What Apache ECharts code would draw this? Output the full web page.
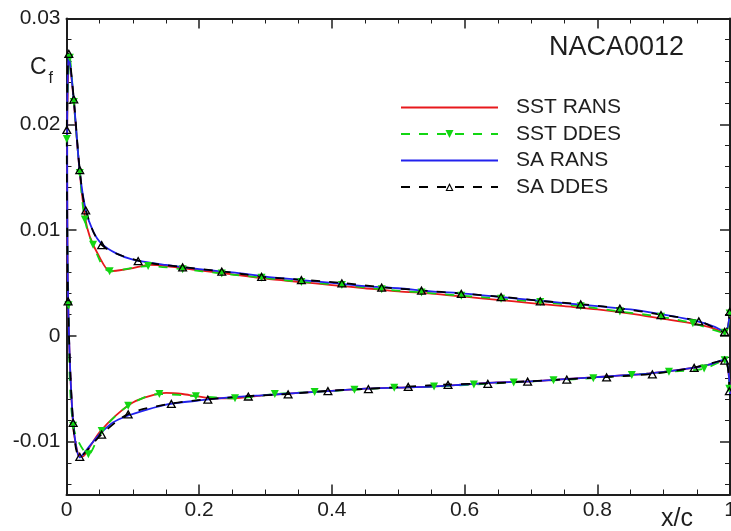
<!DOCTYPE html>
<html>
<head>
<meta charset="utf-8">
<script src="https://cdn.jsdelivr.net/npm/echarts@6/dist/echarts.min.js"></script>
<style>
  html, body { margin: 0; padding: 0; background: #fff; }
  #chart { width: 731px; height: 531px; }
</style>
</head>
<body>
<div id="chart"></div>
<script>
// Skin-friction coefficient on the NACA0012 section.
// Each path runs lower-surface trailing edge -> leading edge -> upper-surface trailing edge.

const xTickStep = 0.2;
const yMajorTicks = [-0.01, 0, 0.01, 0.02, 0.03];

const sstRans = [
  [1.0, -0.0055], [0.993, -0.0023], [0.97, -0.0027], [0.946, -0.0030], [0.9, -0.0034],
  [0.85, -0.0037], [0.8, -0.0039], [0.75, -0.0041], [0.7, -0.0043], [0.65, -0.0044],
  [0.6, -0.0046], [0.55, -0.0048], [0.5, -0.0049], [0.45, -0.0050], [0.4, -0.0052],
  [0.35, -0.0054], [0.3, -0.0056], [0.25, -0.0059], [0.22, -0.0059], [0.195, -0.0057],
  [0.175, -0.0055], [0.15, -0.0054], [0.125, -0.0057], [0.1, -0.0063], [0.075, -0.0075],
  [0.05, -0.0091], [0.035, -0.0105], [0.025, -0.0114], [0.018, -0.0113], [0.01, -0.0085],
  [0.0025, 0.0030], [0.001, 0.0187], [0.004, 0.0264], [0.011, 0.0221], [0.02, 0.0154],
  [0.028, 0.0112], [0.035, 0.0094], [0.05, 0.0074], [0.065, 0.0061], [0.08, 0.0062],
  [0.1, 0.0064], [0.125, 0.0067], [0.15, 0.0066], [0.2, 0.0062], [0.25, 0.0058],
  [0.3, 0.0054], [0.35, 0.0051], [0.4, 0.0048], [0.45, 0.0045], [0.5, 0.0042],
  [0.55, 0.0040], [0.6, 0.0037], [0.65, 0.0034], [0.7, 0.0031], [0.75, 0.0028],
  [0.8, 0.0025], [0.85, 0.0021], [0.9, 0.0016], [0.95, 0.0011], [0.975, 0.0007],
  [0.993, 0.0003], [1.0, 0.0022]
];

const sstDdes = [
  [0.999, -0.0050], [0.992, -0.0023], [0.961, -0.0031], [0.908, -0.0034], [0.852, -0.0037],
  [0.794, -0.0040], [0.734, -0.0042], [0.674, -0.0044], [0.614, -0.0046], [0.554, -0.0048],
  [0.494, -0.0049], [0.434, -0.0051], [0.374, -0.0053], [0.314, -0.0055], [0.254, -0.0059],
  [0.195, -0.0057], [0.14, -0.0055], [0.093, -0.0066], [0.053, -0.0090], [0.033, -0.0112],
  [0.01, -0.0085], [0.003, 0.0029], [0.0005, 0.0186], [0.005, 0.0263], [0.011, 0.0221],
  [0.02, 0.0154], [0.0276, 0.0110], [0.040, 0.0086], [0.065, 0.0061], [0.123, 0.0066],
  [0.175, 0.0063], [0.234, 0.0059], [0.294, 0.0055], [0.354, 0.0051], [0.415, 0.0048],
  [0.475, 0.0044], [0.535, 0.0041], [0.595, 0.0038], [0.655, 0.0035], [0.714, 0.0032],
  [0.775, 0.0028], [0.834, 0.0023], [0.896, 0.0018], [0.944, 0.0012], [0.992, 0.0003],
  [0.9995, 0.0021]
];

const saRans = [
  [1.0, -0.0055], [0.993, -0.0022], [0.97, -0.0027], [0.946, -0.0030], [0.9, -0.0034],
  [0.85, -0.0037], [0.8, -0.0039], [0.75, -0.0041], [0.7, -0.0043], [0.65, -0.0044],
  [0.6, -0.0046], [0.55, -0.0048], [0.5, -0.0049], [0.45, -0.0050], [0.4, -0.0052],
  [0.35, -0.0054], [0.3, -0.0056], [0.25, -0.0058], [0.2, -0.0061], [0.15, -0.0065],
  [0.12, -0.0070], [0.09, -0.0076], [0.07, -0.0082], [0.05, -0.0093], [0.035, -0.0104],
  [0.02, -0.0115], [0.01, -0.0082], [0.0025, 0.0033], [0.001, 0.0195], [0.0035, 0.0266],
  [0.011, 0.0223], [0.02, 0.0155], [0.029, 0.0119], [0.04, 0.0099], [0.053, 0.0087],
  [0.075, 0.0078], [0.1, 0.0072], [0.15, 0.0067], [0.2, 0.0063], [0.25, 0.0060],
  [0.3, 0.0056], [0.35, 0.0053], [0.4, 0.0050], [0.45, 0.0047], [0.5, 0.0045],
  [0.55, 0.0042], [0.6, 0.0040], [0.65, 0.0037], [0.7, 0.0034], [0.75, 0.0031],
  [0.8, 0.0028], [0.85, 0.0025], [0.9, 0.0020], [0.95, 0.0014], [0.975, 0.0009],
  [0.993, 0.0004], [1.0, 0.0023]
];

const saDdes = [
  [0.999, -0.0052], [0.992, -0.0023], [0.946, -0.0030], [0.883, -0.0036], [0.814, -0.0039],
  [0.754, -0.0041], [0.695, -0.0043], [0.635, -0.0045], [0.575, -0.0046], [0.515, -0.0048],
  [0.455, -0.0050], [0.394, -0.0052], [0.334, -0.0055], [0.274, -0.0057], [0.213, -0.0060],
  [0.158, -0.0064], [0.093, -0.0074], [0.053, -0.0093], [0.02, -0.0114], [0.01, -0.0082],
  [0.0024, 0.0033], [0.0005, 0.0195], [0.0035, 0.0267], [0.011, 0.0224], [0.02, 0.0157],
  [0.029, 0.0119], [0.053, 0.0086], [0.108, 0.0071], [0.175, 0.0065], [0.234, 0.0061],
  [0.294, 0.0056], [0.354, 0.0053], [0.415, 0.0050], [0.475, 0.0046], [0.535, 0.0043],
  [0.595, 0.0040], [0.655, 0.0037], [0.714, 0.0033], [0.775, 0.0030], [0.834, 0.0026],
  [0.896, 0.0020], [0.953, 0.0014], [0.992, 0.0004], [0.9995, 0.0023]
];

const FONT = '"Liberation Sans", Arial, sans-serif';
const INK = '#1e1e1e';
const RED = '#e8191c';
const GREEN = '#12d612';
const BLUE = '#2222ee';
const BLACK = '#000000';
// outlined triangle (inner contour wound the other way so it stays hollow)
const HOLLOW_TRI = 'path://M0,10 L5,0 L10,10 Z M2.2,8.6 L7.8,8.6 L5,3.2 Z';

// minor y ticks every 0.002, skipping the labelled ones
const yMinorTicks = [];
for (let k = -7; k <= 15; k++) {
  if (k % 5 !== 0) yMinorTicks.push(+(k * 0.002).toFixed(3));
}

const plotRect = { left: 66.5, right: 1, top: 18.5, bottom: 36.5, containLabel: false, outerBoundsMode: 'none' };
const axisLineStyle = { color: INK, width: 2 };

function xAxisDef(pos, labels) {
  return {
    type: 'value', gridIndex: 0, position: pos, min: 0, max: 1, interval: xTickStep,
    axisLine: { onZero: false, lineStyle: axisLineStyle },
    axisTick: { inside: true, length: 10, lineStyle: { color: INK, width: 1.5 } },
    minorTick: { show: true, splitNumber: 4, length: 5, lineStyle: { color: INK, width: 1 } },
    axisLabel: { show: labels, fontSize: 21, color: INK, fontFamily: FONT, margin: 5 },
    splitLine: { show: false }, minorSplitLine: { show: false }
  };
}

function yAxisDef(grid, pos, ticks, len, labels, line) {
  return {
    type: 'value', gridIndex: grid, position: pos, min: -0.015, max: 0.03,
    axisLine: { show: line, onZero: false, lineStyle: axisLineStyle },
    axisTick: { inside: true, length: len, customValues: ticks, lineStyle: { color: INK, width: len > 6 ? 1.5 : 1 } },
    axisLabel: { show: labels, customValues: ticks, fontSize: 21, color: INK, fontFamily: FONT, margin: 6 },
    splitLine: { show: false }
  };
}

const chart = echarts.init(document.getElementById('chart'), null, { renderer: 'canvas' });
chart.setOption({
  animation: false,
  backgroundColor: '#fff',
  // second grid shares the same rectangle and only carries the minor y ticks
  grid: [Object.assign({}, plotRect), Object.assign({}, plotRect)],
  xAxis: [
    xAxisDef('bottom', true),
    xAxisDef('top', false),
    { type: 'value', gridIndex: 1, min: 0, max: 1, show: false }
  ],
  yAxis: [
    yAxisDef(0, 'left', yMajorTicks, 10, true, true),
    yAxisDef(0, 'right', yMajorTicks, 10, false, true),
    yAxisDef(1, 'left', yMinorTicks, 5, false, false),
    yAxisDef(1, 'right', yMinorTicks, 5, false, false)
  ],
  legend: {
    orient: 'vertical', left: 400, top: 97, padding: 0,
    itemWidth: 97, itemHeight: 10, itemGap: 5.5,
    selectedMode: false,
    textStyle: { fontSize: 21, color: INK, fontFamily: FONT, padding: [0, 0, 0, 13] },
    data: [
      { name: 'SST RANS', itemStyle: { opacity: 0 } },
      { name: 'SST DDES' },
      { name: 'SA RANS', itemStyle: { opacity: 0 } },
      { name: 'SA DDES' }
    ]
  },
  graphic: [
    { type: 'text', x: 549, y: 48, style: { text: 'NACA0012', fontSize: 27, fontFamily: FONT, fill: INK, verticalAlign: 'middle' } },
    { type: 'text', x: 30, y: 67.5, style: { text: 'C', fontSize: 23, fontFamily: FONT, fill: INK, verticalAlign: 'middle' } },
    { type: 'text', x: 48.5, y: 79, style: { text: 'f', fontSize: 16, fontFamily: FONT, fill: INK, verticalAlign: 'middle' } },
    { type: 'text', x: 661, y: 519, style: { text: 'x/c', fontSize: 25, fontFamily: FONT, fill: INK, verticalAlign: 'middle' } }
  ],
  series: [
    {
      name: 'SST RANS', type: 'line', data: sstRans, symbol: 'none', smooth: 0.25,
      lineStyle: { color: RED, width: 1.8 }, itemStyle: { color: RED }, emphasis: { disabled: true }
    },
    {
      name: 'SST DDES', type: 'line', data: sstDdes, symbol: 'triangle', symbolRotate: 180, symbolSize: 8,
      smooth: 0.3, lineStyle: { color: GREEN, width: 1.8, type: [9, 9] }, itemStyle: { color: GREEN },
      emphasis: { disabled: true }
    },
    {
      name: 'SA RANS', type: 'line', data: saRans, symbol: 'none', smooth: 0.25,
      lineStyle: { color: BLUE, width: 1.8 }, itemStyle: { color: BLUE }, emphasis: { disabled: true }
    },
    {
      name: 'SA DDES', type: 'line', data: saDdes, symbol: HOLLOW_TRI, symbolSize: [10, 9],
      smooth: 0.3, lineStyle: { color: BLACK, width: 1.8, type: [9, 9] }, itemStyle: { color: BLACK },
      emphasis: { disabled: true }
    }
  ]
});
</script>
</body>
</html>
